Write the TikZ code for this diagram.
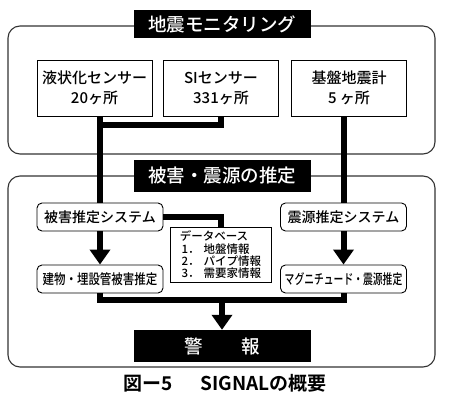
\documentclass[tikz,border=0pt]{standalone}
\usepackage{fontspec}
\setmainfont{Noto Sans CJK JP Medium}[BoldFont={Noto Sans CJK JP Bold}]
\usetikzlibrary{arrows.meta,calc}
\begin{document}
\begin{tikzpicture}[x=1pt,y=-1pt,
 outer/.style={draw=black!80,line width=1.1pt,rounded corners=12pt},
 titlebox/.style={fill=black,text=white,minimum width=177pt,minimum height=28pt,inner sep=0pt,font=\fontsize{18.5}{20}\selectfont},
 sensor/.style={draw,line width=0.9pt,minimum width=115pt,minimum height=56pt,inner sep=0pt,align=center,font=\fontsize{15}{20}\selectfont},
 sys/.style={draw,fill=white,line width=0.9pt,rounded corners=5pt,minimum width=126pt,minimum height=28pt,inner sep=0pt,font=\fontsize{14}{16}\selectfont},
 dbbox/.style={draw,fill=white,line width=0.8pt,minimum width=101pt,minimum height=55pt,inner sep=0pt,align=left,font=\fontsize{11.5}{12.3}\selectfont},
 conn/.style={line width=6pt},
 arr/.style={line width=6pt,-{Triangle[width=20pt,length=15pt]}},
]
\useasboundingbox (0,0) rectangle (450,406);
\draw[outer] (8,26) rectangle (435,154);
\draw[outer] (8,176) rectangle (435,367);

\node[titlebox] (t1) at (222,24) {地震モニタリング};
\node[titlebox,minimum height=32pt] (t2) at (222,176) {被害・震源の推定};

\node[sensor] (s1) at (94.5,88) {液状化センサー\\20ヶ所};
\node[sensor] (s2) at (221,88) {SIセンサー\\331ヶ所};
\node[sensor] (s3) at (349,88) {基盤地震計\\5 ヶ所};

\node[sys] (b1) at (100,217) {被害推定システム};
\node[sys] (b2) at (100,279) {\scalebox{0.82}[1]{建物・埋設管被害推定}};
\node[sys] (r1) at (343.5,217) {震源推定システム};
\node[sys] (r2) at (343.5,279) {\scalebox{0.7}[1]{マグニチュード・震源推定}};

\node[dbbox] (db) at (220.5,255) {データベース\\\makebox[24pt][l]{\,1．}地盤情報\\\makebox[24pt][l]{\,2．}パイプ情報\\\makebox[24pt][l]{\,3．}需要家情報};

\node[titlebox,minimum height=32pt] (alarm) at (222,346) {警\hspace{38pt}報};

\coordinate (j1) at (100,125);
\coordinate (j2) at (222,300);
\draw[conn] (s1.south -| b1.north) -- (b1.north);
\draw[conn] (s2.south) |- (j1);
\draw[arr] (b1.south) -- (b2.north);
\draw[conn] (b1.east) -| (db.north);
\draw[conn] (s3.south -| r1.north) -- (r1.north);
\draw[arr] (r1.south) -- (r2.north);
\draw[conn] (b2.south) |- (j2) -| (r2.south);
\draw[arr] (j2) -- (alarm.north);

\node[font=\bfseries\fontsize{19}{20}\selectfont] (cap) at (225,383) {図ー5\hspace{28pt}SIGNALの概要};
\end{tikzpicture}
\end{document}
